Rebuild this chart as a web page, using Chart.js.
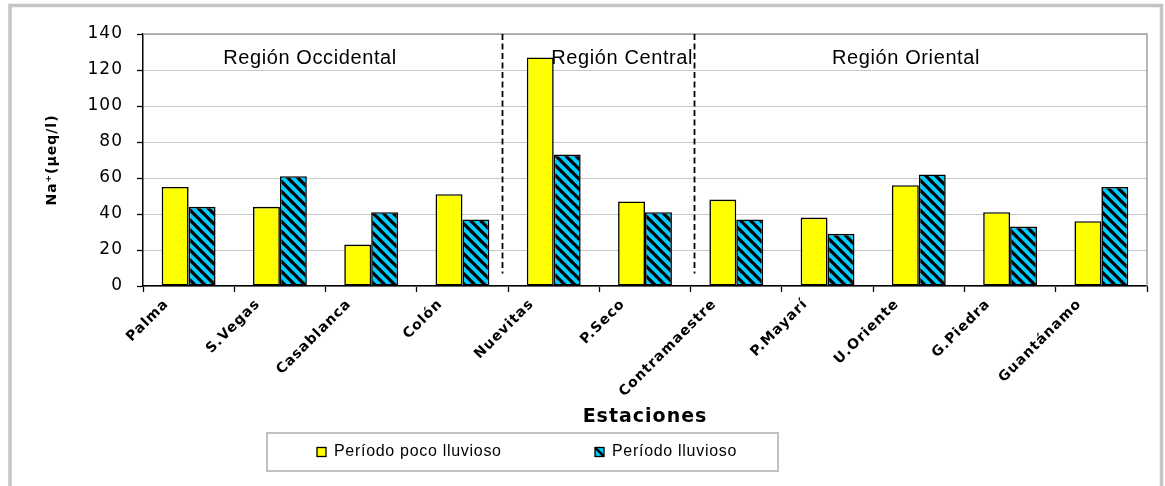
<!DOCTYPE html>
<html>
<head>
<meta charset="utf-8">
<script src="https://cdn.jsdelivr.net/npm/chart.js@4.4.1/dist/chart.umd.min.js"></script>
<style>
  html, body { margin: 0; padding: 0; background: #ffffff; }
  #wrap { width: 1165px; height: 486px; position: relative; }
</style>
</head>
<body>
<div id="wrap"><canvas id="chart"></canvas></div>
<script>
// Stations along the island, west to east
const estaciones = ['Palma', 'S.Vegas', 'Casablanca', 'Colón', 'Nuevitas', 'P.Seco',
                    'Contramaestre', 'P.Mayarí', 'U.Oriente', 'G.Piedra', 'Guantánamo'];

// Na+ concentration (µeq/l) per station
const periodoPocoLluvioso = [55, 44, 23, 51, 127, 47, 48, 38, 56, 41, 36];
const periodoLluvioso     = [44, 61, 41, 37, 73, 41, 37, 29, 62, 33, 55];

const nombresSeries = ['Período poco lluvioso', 'Período lluvioso'];
const yTicks = [0, 20, 40, 60, 80, 100, 120, 140];

// Region names and the station-axis positions (category units) used to place them
const regiones = ['Región Occidental', 'Región Central', 'Región Oriental'];
const regionesX = [1.33, 4.75, 7.86];
const regionesY = 126.6;
// Dashed separators between regions (category units) and their lower end (value units)
const separadoresX = [3.43, 5.54];
const separadorFin = 7;

const AMARILLO = '#ffff00';
const CIAN = '#00ccff';

function rayado(size, fondo, trazo, grosor) {
  const c = document.createElement('canvas');
  c.width = c.height = size;
  const g = c.getContext('2d');
  g.fillStyle = fondo;
  g.fillRect(0, 0, size, size);
  g.strokeStyle = trazo;
  g.lineWidth = grosor;
  for (let k = -1; k <= 1; k++) {
    g.beginPath();
    g.moveTo(-2, -2 + k * size);
    g.lineTo(size + 2, size + 2 + k * size);
    g.stroke();
  }
  return g.createPattern(c, 'repeat');
}

const ESPACIADO = '1px';

const espaciadoTexto = {
  id: 'espaciadoTexto',
  beforeUpdate(chart) { chart.ctx.letterSpacing = ESPACIADO; },
  beforeDraw(chart) { chart.ctx.letterSpacing = ESPACIADO; }
};

const marcoExterior = {
  id: 'marcoExterior',
  beforeDraw(chart) {
    const ctx = chart.ctx;
    ctx.save();
    ctx.fillStyle = '#ffffff';
    ctx.fillRect(0, 0, chart.width, chart.height);
    ctx.strokeStyle = '#c4c4c4';
    ctx.lineWidth = 3.5;
    ctx.strokeRect(10, 5.5, chart.width - 13.5, chart.height + 20);
    ctx.restore();
  }
};

const bordeArea = {
  id: 'bordeArea',
  beforeDatasetsDraw(chart) {
    const { ctx, chartArea: a } = chart;
    ctx.save();
    ctx.strokeStyle = '#a0a0a0';
    ctx.lineWidth = 1.5;
    ctx.beginPath();
    ctx.moveTo(a.left, a.top);
    ctx.lineTo(a.right, a.top);
    ctx.lineTo(a.right, a.bottom);
    ctx.stroke();
    ctx.restore();
  }
};

const regionesPlugin = {
  id: 'regionesPlugin',
  afterDatasetsDraw(chart) {
    const { ctx, scales: { x, y } } = chart;
    ctx.save();
    ctx.strokeStyle = '#000000';
    ctx.lineWidth = 1.8;
    ctx.setLineDash([6, 3.5]);
    separadoresX.forEach(v => {
      const px = Math.round(x.getPixelForValue(v)) + 0.5;
      ctx.beginPath();
      ctx.moveTo(px, y.getPixelForValue(140));
      ctx.lineTo(px, y.getPixelForValue(separadorFin));
      ctx.stroke();
    });
    ctx.setLineDash([]);
    ctx.letterSpacing = '0.6px';
    ctx.font = '20px "Liberation Sans", Arial, sans-serif';
    ctx.fillStyle = '#000000';
    ctx.textAlign = 'center';
    ctx.textBaseline = 'middle';
    regiones.forEach((t, i) => {
      ctx.fillText(t, x.getPixelForValue(regionesX[i]), y.getPixelForValue(regionesY));
    });
    ctx.restore();
  }
};

const leyendaPlugin = {
  id: 'leyendaPlugin',
  afterDraw(chart) {
    const ctx = chart.ctx;
    const caja = { x: 267, y: 433, w: 511, h: 38 };
    const itemsX = [317, 595];
    ctx.save();
    ctx.strokeStyle = '#c0c0c0';
    ctx.lineWidth = 2;
    ctx.strokeRect(caja.x, caja.y, caja.w, caja.h);
    const cy = caja.y + caja.h / 2;
    chart.data.datasets.forEach((ds, i) => {
      const sx = itemsX[i];
      const sy = cy - 4.5;
      ctx.fillStyle = i === 0 ? AMARILLO : CIAN;
      ctx.fillRect(sx, sy, 9, 9);
      if (i === 1) {
        ctx.save();
        ctx.beginPath();
        ctx.rect(sx, sy, 9, 9);
        ctx.clip();
        ctx.strokeStyle = '#000';
        ctx.lineWidth = 2.5;
        ctx.beginPath();
        ctx.moveTo(sx - 1, sy - 1);
        ctx.lineTo(sx + 10, sy + 10);
        ctx.stroke();
        ctx.restore();
      }
      ctx.strokeStyle = '#000';
      ctx.lineWidth = 1.3;
      ctx.strokeRect(sx, sy, 9, 9);
      ctx.letterSpacing = '0.7px';
      ctx.font = '16px "Liberation Sans", Arial, sans-serif';
      ctx.fillStyle = '#000';
      ctx.textAlign = 'left';
      ctx.textBaseline = 'middle';
      ctx.fillText(ds.label, sx + 17, cy);
    });
    ctx.restore();
  }
};

new Chart(document.getElementById('chart'), {
  type: 'bar',
  data: {
    labels: estaciones,
    datasets: [
      {
        label: nombresSeries[0],
        data: periodoPocoLluvioso,
        backgroundColor: AMARILLO,
        borderColor: '#000000',
        borderWidth: 1.6,
        borderSkipped: false
      },
      {
        label: nombresSeries[1],
        data: periodoLluvioso,
        backgroundColor: rayado(10, CIAN, '#000000', 3.2),
        borderColor: '#000000',
        borderWidth: 1.6,
        borderSkipped: false
      }
    ]
  },
  options: {
    responsive: true,
    maintainAspectRatio: false,
    animation: false,
    devicePixelRatio: 1,
    layout: { padding: { left: 44, right: 18, top: 34, bottom: 58 } },
    datasets: { bar: { categoryPercentage: 0.59, barPercentage: 1.0 } },
    plugins: {
      legend: { display: false },
      tooltip: { enabled: false }
    },
    scales: {
      x: {
        offset: true,
        grid: {
          display: true,
          offset: true,
          drawOnChartArea: false,
          tickLength: 6,
          tickColor: '#000000',
          tickWidth: 1.3
        },
        border: { display: true, color: '#000000', width: 1.5 },
        ticks: {
          autoSkip: false,
          minRotation: 45,
          maxRotation: 45,
          labelOffset: -22,
          padding: 4,
          color: '#000000',
          font: { family: '"DejaVu Sans", sans-serif', size: 14, weight: 'bold' }
        },
        title: {
          display: true,
          text: 'Estaciones',
          color: '#000000',
          padding: { top: 0, bottom: 0 },
          font: { family: '"DejaVu Sans", sans-serif', size: 19, weight: 'bold' }
        },
        afterFit(s) { s.height = 142; }
      },
      y: {
        min: 0,
        max: 140,
        afterBuildTicks(s) { s.ticks = yTicks.map(v => ({ value: v })); },
        grid: {
          color: '#c8c8c8',
          lineWidth: 1,
          tickLength: 6,
          tickColor: '#000000',
          tickWidth: 1.3
        },
        border: { display: true, color: '#000000', width: 1.5 },
        ticks: {
          padding: 14,
          color: '#000000',
          font: { family: '"DejaVu Sans", sans-serif', size: 17 }
        },
        title: {
          display: true,
          text: 'Na⁺(µeq/l)',
          color: '#000000',
          padding: 0,
          font: { family: '"DejaVu Sans", sans-serif', size: 14, weight: 'bold' }
        },
        afterFit(s) { s.width = 99; }
      }
    }
  },
  plugins: [espaciadoTexto, marcoExterior, bordeArea, regionesPlugin, leyendaPlugin]
});
</script>
</body>
</html>
